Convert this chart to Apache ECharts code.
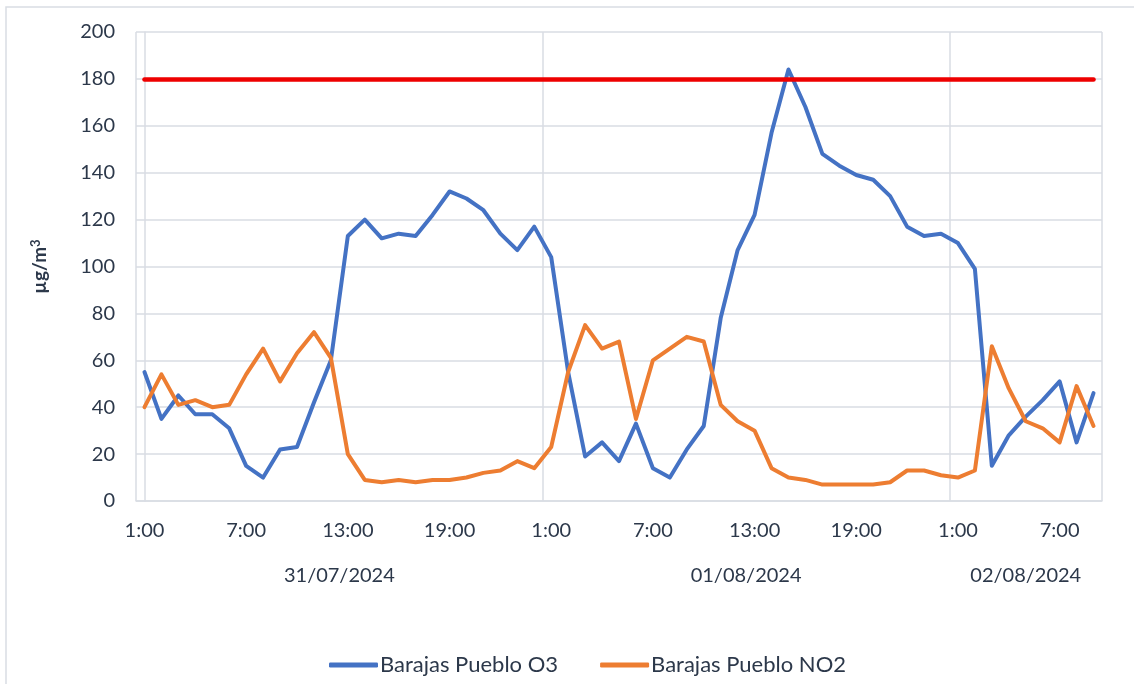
<!DOCTYPE html>
<html>
<head>
<meta charset="utf-8">
<script src="https://cdn.jsdelivr.net/npm/echarts@6/dist/echarts.min.js"></script>
<style>html,body{margin:0;padding:0;background:#fff}#c{width:1134px;height:684px}</style>
</head>
<body>
<div id="c"></div>
<script>
const hours = ['1:00','2:00','3:00','4:00','5:00','6:00','7:00','8:00','9:00','10:00','11:00','12:00','13:00','14:00','15:00','16:00','17:00','18:00','19:00','20:00','21:00','22:00','23:00','0:00',
  '1:00','2:00','3:00','4:00','5:00','6:00','7:00','8:00','9:00','10:00','11:00','12:00','13:00','14:00','15:00','16:00','17:00','18:00','19:00','20:00','21:00','22:00','23:00','0:00',
  '1:00','2:00','3:00','4:00','5:00','6:00','7:00','8:00','9:00'];
const dateLabels = ['31/07/2024','01/08/2024','02/08/2024'];
const dateCounts = [24, 24, 9];
const o3 = [55,35,45,37,37,31,15,10,22,23,42,60,113,
  120,112,114,113,122,132,129,124,114,107,117,104,
  55,19,25,17,33,14,10,22,32,78,107,122,
  157,184,168,148,143,139,137,130,117,113,114,110,
  99,15,28,36,43,51,25,46];
const no2 = [40,54,41,43,40,41,54,65,51,63,72,61,20,
  9,8,9,8,9,9,10,12,13,17,14,23,
  55,75,65,68,35,60,65,70,68,41,34,30,
  14,10,9,7,7,7,7,8,13,13,11,10,
  13,66,48,34,31,25,49,32];
const threshold = 180;
const yTicks = {min: 0, max: 200, interval: 20};

// centers of the date groups in category-index units
const dateCenters = [];
let start = -0.5;
dateCounts.forEach(n => { dateCenters.push(start + n / 2); start += n; });
const dayStarts = [];
let acc = 0;
dateCounts.forEach(n => { dayStarts.push(acc); acc += n; });

const textColor = '#2c384a';
const gridColor = '#d9dde3';
const font = 'Lato';

const chart = echarts.init(document.getElementById('c'), null, {renderer: 'canvas'});
chart.setOption({
  animation: false,
  textStyle: {fontFamily: font},
  graphic: [{
    type: 'rect', silent: true,
    shape: {x: 6, y: 7, width: 1300, height: 900},
    style: {fill: 'none', stroke: gridColor, lineWidth: 1.5}
  }],
  grid: {left: 136, right: 32, top: 32, bottom: 183, containLabel: false},
  legend: {
    data: ['Barajas Pueblo O3', 'Barajas Pueblo NO2'],
    top: 649, left: 324,
    icon: 'roundRect', itemWidth: 49, itemHeight: 5, itemGap: 42,
    textStyle: {color: textColor, fontSize: 22, fontFamily: font, padding: [0, 0, 0, -3]}
  },
  xAxis: [{
    type: 'category', data: hours, boundaryGap: true,
    axisLine: {show: true, lineStyle: {color: gridColor, width: 1.5}},
    axisTick: {show: false},
    axisLabel: {interval: 5, color: textColor, fontSize: 20, fontFamily: font, margin: 20},
    splitLine: {show: true, interval: (i) => dayStarts.indexOf(i) >= 0, lineStyle: {color: gridColor, width: 1.5}}
  }, {
    type: 'value', min: -0.5, max: 56.5, interval: 0.5, position: 'bottom',
    axisLine: {show: false}, axisTick: {show: false}, splitLine: {show: false},
    axisLabel: {
      color: textColor, fontSize: 20, fontFamily: font, margin: 65, showMinLabel: true, showMaxLabel: true,
      formatter: (v) => {
        for (let k = 0; k < dateCenters.length; k++) {
          if (Math.abs(v - dateCenters[k]) < 0.01) return dateLabels[k];
        }
        return '';
      }
    }
  }],
  yAxis: {
    type: 'value', min: yTicks.min, max: yTicks.max, interval: yTicks.interval,
    name: 'µg/m{sup|3}', nameLocation: 'middle', nameRotate: 90, nameGap: 86,
    nameTextStyle: {
      color: textColor, fontSize: 19, fontWeight: 'bold', fontFamily: font,
      rich: {sup: {fontSize: 13, fontWeight: 'bold', color: textColor, fontFamily: font, verticalAlign: 'top', padding: [0, 0, 8, 0]}}
    },
    axisLine: {show: true, lineStyle: {color: gridColor, width: 1.5}},
    axisTick: {show: false},
    axisLabel: {color: textColor, fontSize: 20, fontFamily: font, margin: 21},
    splitLine: {show: true, lineStyle: {color: gridColor, width: 1.5}}
  },
  series: [{
    name: 'Barajas Pueblo O3', type: 'line', data: o3, symbol: 'none',
    itemStyle: {color: '#4472c4'},
    lineStyle: {color: '#4472c4', width: 4, cap: 'round', join: 'round'}
  }, {
    name: 'Barajas Pueblo NO2', type: 'line', data: no2, symbol: 'none',
    itemStyle: {color: '#ed7d31'},
    lineStyle: {color: '#ed7d31', width: 4, cap: 'round', join: 'round'},
    markLine: {
      silent: true, symbol: ['none', 'none'], label: {show: false},
      lineStyle: {color: '#ee0000', width: 4.5, type: 'solid', cap: 'round'},
      emphasis: {disabled: true},
      data: [[{coord: [0, threshold]}, {coord: [hours.length - 1, threshold]}]]
    }
  }]
});
</script>
</body>
</html>
